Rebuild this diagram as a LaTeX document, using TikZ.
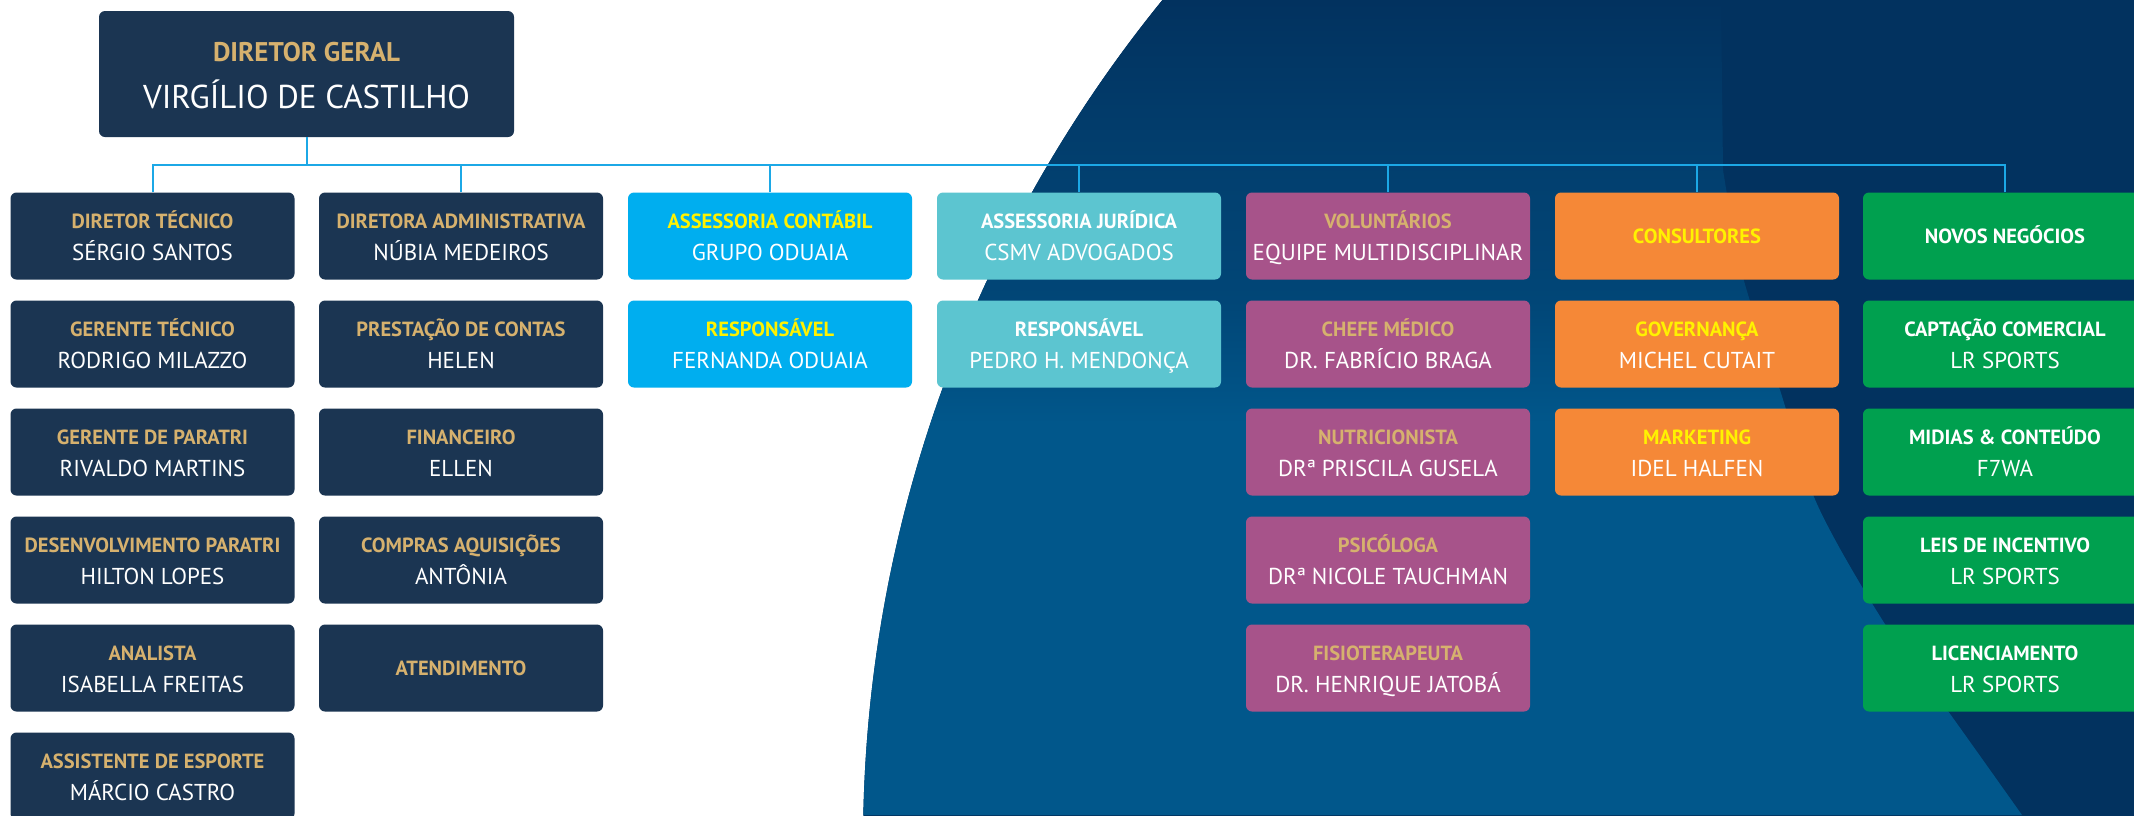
\documentclass[tikz,border=0pt]{standalone}
\usepackage{fontspec}
\setmainfont{PT Sans}
\definecolor{bgdark}{HTML}{02325F}
\definecolor{bglight}{HTML}{01578B}
\definecolor{navybox}{HTML}{1B3552}
\definecolor{gold}{HTML}{D6B16E}
\definecolor{yel}{HTML}{FFF200}
\definecolor{cyanbox}{HTML}{00AEEF}
\definecolor{tealbox}{HTML}{5CC5D0}
\definecolor{purplebox}{HTML}{A7538A}
\definecolor{orangebox}{HTML}{F58837}
\definecolor{greenbox}{HTML}{00A04F}
\definecolor{linecol}{HTML}{1CA8E6}
\colorlet{bgmidA}{bglight!54!bgdark}
\colorlet{bgmidB}{bglight!35!bgdark}
\pgfdeclareverticalshading{bgsh}{100bp}{color(0bp)=(bglight); color(49bp)=(bglight); color(56.6bp)=(bgmidA); color(65.2bp)=(bgmidB); color(75bp)=(bgdark); color(100bp)=(bgdark)}
\tikzset{
  orgbox/.style={draw=none, rounded corners=6pt, minimum width=284pt, minimum height=87pt, inner sep=0pt},
  topbox/.style={orgbox, fill=navybox, minimum width=415pt, minimum height=126pt},
  ttl/.style={anchor=base, inner sep=0pt, font=\bfseries\fontsize{20.5}{24}\selectfont},
  nm/.style={anchor=base, inner sep=0pt, text=white, font=\fontsize{23}{27}\selectfont},
  conn/.style={draw=linecol, line width=2pt}
}
% name, x, y-center, fill, title colour, title, person
\newcommand{\obox}[7]{%
  \node[orgbox, fill=#4] (#1) at (#2,#3) {};
  \node[ttl, text=#5] (#1t) at ([yshift=8pt]#1.center) {#6};
  \node[nm] (#1n) at ([yshift=-24pt]#1.center) {#7};
}
\newcommand{\singlebox}[6]{%
  \node[orgbox, fill=#4] (#1) at (#2,#3) {};
  \node[ttl, text=#5] (#1t) at ([yshift=-7pt]#1.center) {#6};
}
\begin{document}
\begin{tikzpicture}[x=1pt,y=-1pt]
\useasboundingbox (0,0) rectangle (2134,815);
\fill[white] (0,0) rectangle (2134,815);
\begin{scope}
  \clip (0,0) rectangle (2134,815);
  \fill[bgdark] (2202,844) circle[radius=1339pt];
  \clip (2202,844) circle[radius=1339pt];
  \shade[shading=bgsh] (0,0) -- (1721,0) --
     plot[smooth] coordinates {(1723,170) (1743,277) (1780,390) (1817,504) (1883,621) (1953,718) (2022,815)}
     -- (0,815) -- cycle;
\end{scope}

% top box
\node[topbox] (top) at (306.5,74) {};
\node[anchor=base, inner sep=0pt, text=gold, font=\bfseries\fontsize{27}{32}\selectfont] (topt) at ([yshift=12.5pt]top.center) {DIRETOR GERAL};
\node[anchor=base, inner sep=0pt, text=white, font=\fontsize{33}{38}\selectfont] (topn) at ([yshift=-34.5pt]top.center) {VIRGÍLIO DE CASTILHO};

% column 1
\obox{c1r1}{152.5}{236}{navybox}{gold}{DIRETOR TÉCNICO}{SÉRGIO SANTOS}
\obox{c1r2}{152.5}{344}{navybox}{gold}{GERENTE TÉCNICO}{RODRIGO MILAZZO}
\obox{c1r3}{152.5}{452}{navybox}{gold}{GERENTE DE PARATRI}{RIVALDO MARTINS}
\obox{c1r4}{152.5}{560}{navybox}{gold}{DESENVOLVIMENTO PARATRI}{HILTON LOPES}
\obox{c1r5}{152.5}{668}{navybox}{gold}{ANALISTA}{ISABELLA FREITAS}
\obox{c1r6}{152.5}{776}{navybox}{gold}{ASSISTENTE DE ESPORTE}{MÁRCIO CASTRO}
% column 2
\obox{c2r1}{461}{236}{navybox}{gold}{DIRETORA ADMINISTRATIVA}{NÚBIA MEDEIROS}
\obox{c2r2}{461}{344}{navybox}{gold}{PRESTAÇÃO DE CONTAS}{HELEN}
\obox{c2r3}{461}{452}{navybox}{gold}{FINANCEIRO}{ELLEN}
\obox{c2r4}{461}{560}{navybox}{gold}{COMPRAS AQUISIÇÕES}{ANTÔNIA}
\singlebox{c2r5}{461}{668}{navybox}{gold}{ATENDIMENTO}
% column 3
\obox{c3r1}{770}{236}{cyanbox}{yel}{ASSESSORIA CONTÁBIL}{GRUPO ODUAIA}
\obox{c3r2}{770}{344}{cyanbox}{yel}{RESPONSÁVEL}{FERNANDA ODUAIA}
% column 4
\obox{c4r1}{1079}{236}{tealbox}{white}{ASSESSORIA JURÍDICA}{CSMV ADVOGADOS}
\obox{c4r2}{1079}{344}{tealbox}{white}{RESPONSÁVEL}{PEDRO H. MENDONÇA}
% column 5
\obox{c5r1}{1388}{236}{purplebox}{gold}{VOLUNTÁRIOS}{EQUIPE MULTIDISCIPLINAR}
\obox{c5r2}{1388}{344}{purplebox}{gold}{CHEFE MÉDICO}{DR. FABRÍCIO BRAGA}
\obox{c5r3}{1388}{452}{purplebox}{gold}{NUTRICIONISTA}{DRª PRISCILA GUSELA}
\obox{c5r4}{1388}{560}{purplebox}{gold}{PSICÓLOGA}{DRª NICOLE TAUCHMAN}
\obox{c5r5}{1388}{668}{purplebox}{gold}{FISIOTERAPEUTA}{DR. HENRIQUE JATOBÁ}
% column 6
\singlebox{c6r1}{1697}{236}{orangebox}{yel}{CONSULTORES}
\obox{c6r2}{1697}{344}{orangebox}{yel}{GOVERNANÇA}{MICHEL CUTAIT}
\obox{c6r3}{1697}{452}{orangebox}{yel}{MARKETING}{IDEL HALFEN}
% column 7
\singlebox{c7r1}{2005}{236}{greenbox}{white}{NOVOS NEGÓCIOS}
\obox{c7r2}{2005}{344}{greenbox}{white}{CAPTAÇÃO COMERCIAL}{LR SPORTS}
\obox{c7r3}{2005}{452}{greenbox}{white}{MIDIAS \& CONTEÚDO}{F7WA}
\obox{c7r4}{2005}{560}{greenbox}{white}{LEIS DE INCENTIVO}{LR SPORTS}
\obox{c7r5}{2005}{668}{greenbox}{white}{LICENCIAMENTO}{LR SPORTS}

% connectors
\coordinate (bus) at (306.5,165);
\draw[conn] (top.south) -- (bus);
\foreach \c in {c1r1,c2r1,c3r1,c4r1,c5r1,c6r1,c7r1}
  \draw[conn] (\c.north) |- (bus);
\end{tikzpicture}
\end{document}
